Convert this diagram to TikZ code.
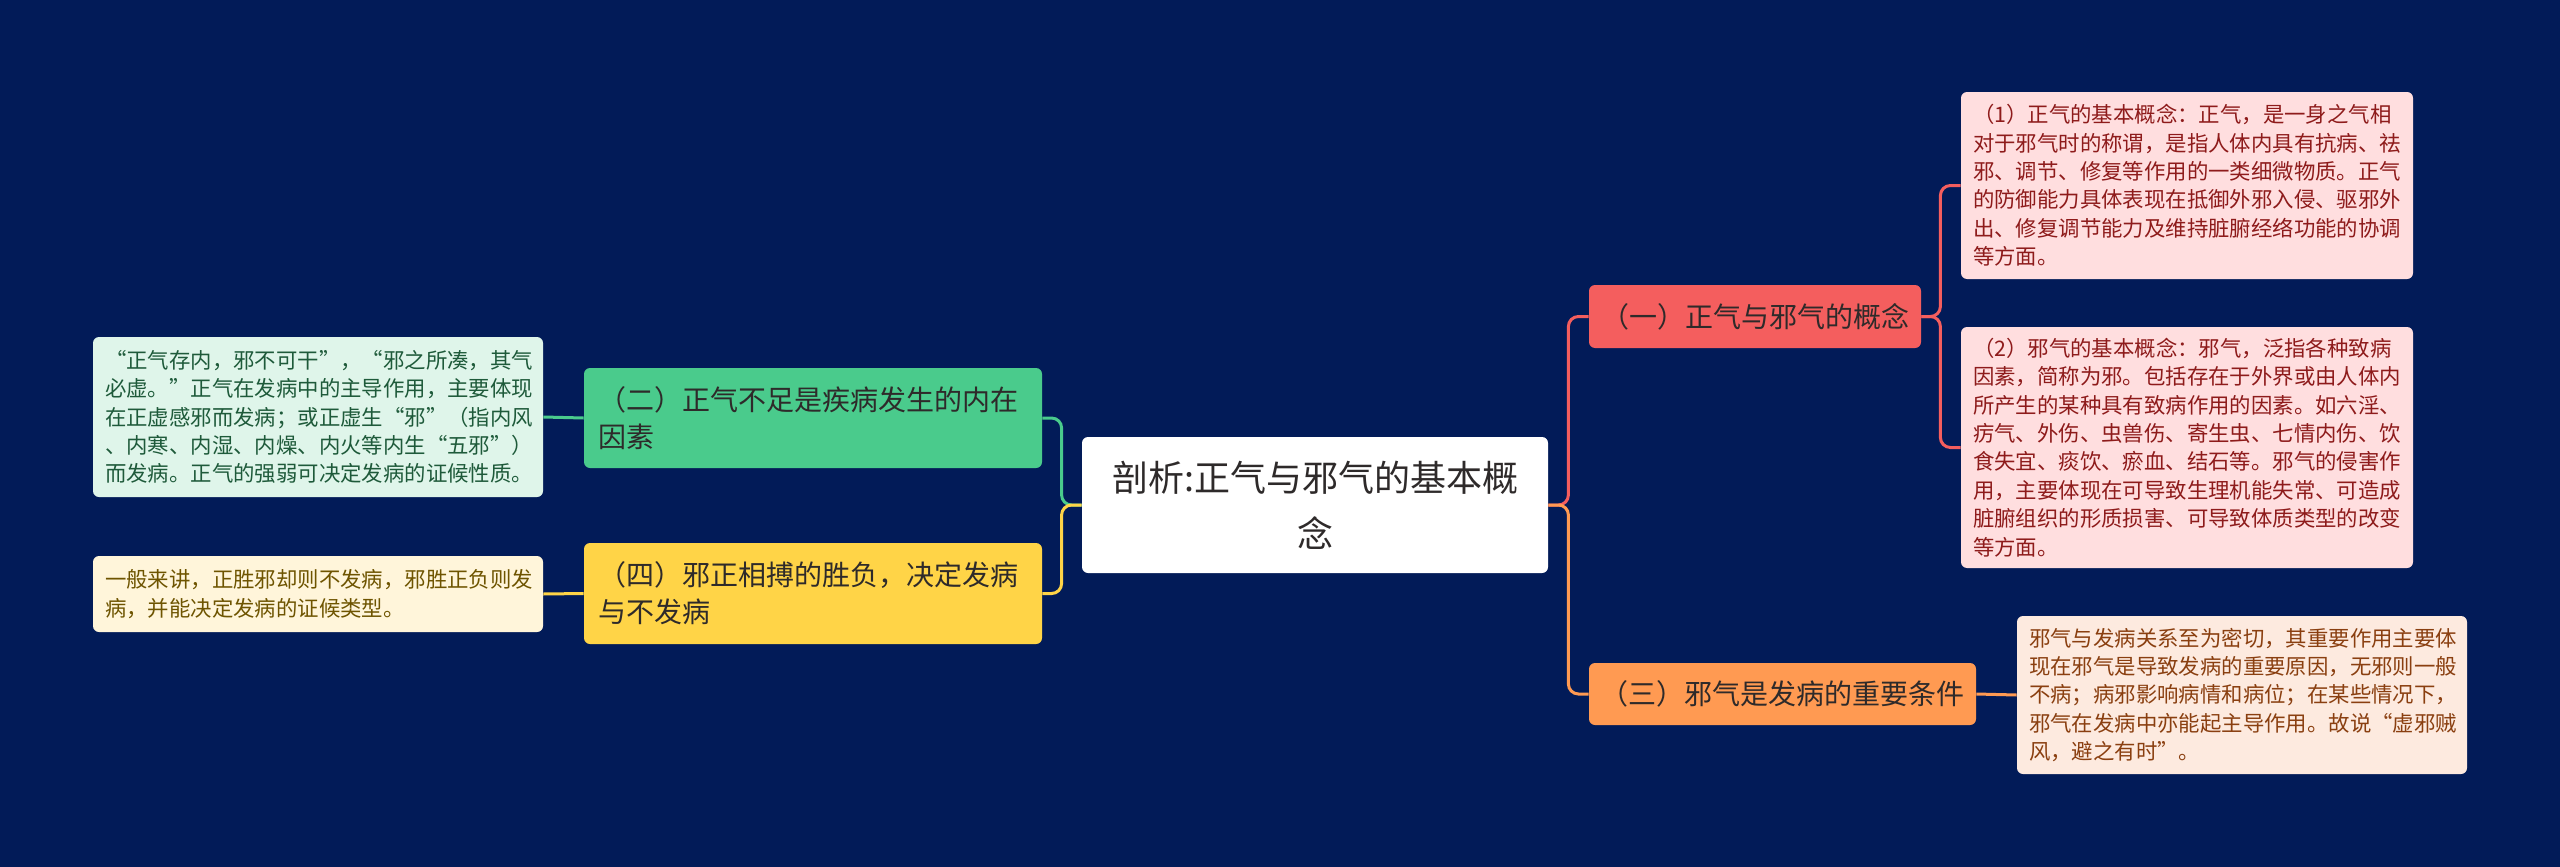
\documentclass[tikz,border=0pt]{standalone}
\usepackage{fontspec}
\setmainfont{Noto Sans CJK SC}
\definecolor{navy}{HTML}{021B58}
\definecolor{redfill}{HTML}{F45E5E}
\definecolor{orangefill}{HTML}{FF9A52}
\definecolor{greenfill}{HTML}{4ACB8C}
\definecolor{yellowfill}{HTML}{FFD447}
\definecolor{pinkleaf}{HTML}{FFDEDF}
\definecolor{peachleaf}{HTML}{FDEADF}
\definecolor{mintleaf}{HTML}{DFF5EA}
\definecolor{creamleaf}{HTML}{FFF5DA}
\definecolor{redtext}{HTML}{8E1B1B}
\definecolor{browntext}{HTML}{8A3F10}
\definecolor{greentext}{HTML}{1E5A3A}
\definecolor{olivetext}{HTML}{6E5400}
\definecolor{darktext}{HTML}{2E2A2A}

\begin{document}
\begin{tikzpicture}[x=0.5pt, y=-0.5pt,
  box/.style={rounded corners=3pt, inner ysep=0pt},
  leaf/.style={box, inner xsep=6pt, align=left,
    font=\fontsize{10.7pt}{14.2pt}\selectfont},
  branch/.style={box, text=darktext,
    font=\fontsize{14pt}{18.5pt}\selectfont},
  link/.style={line width=1.5pt, rounded corners=5pt}]
  \fill[navy] (0,0) rectangle (2560,867);

  \node[box, fill=white, text=darktext, align=center,
    minimum width=233pt, minimum height=68pt,
    font=\fontsize{18pt}{28pt}\selectfont] (ctr) at (1315,505)
    {剖析:正气与邪气的基本概\\念};

  \node[branch, fill=redfill, minimum width=166pt, minimum height=31.5pt] (b1) at (1755,316.5)
    {（一）正气与邪气的概念};
  \node[branch, fill=orangefill, minimum width=193.5pt, minimum height=31pt] (b3) at (1782.5,694)
    {（三）邪气是发病的重要条件};
  \node[branch, fill=greenfill, inner xsep=7pt, text width=215pt, align=left,
    minimum height=50pt] (b2) at (813,418)
    {（二）正气不足是疾病发生的内在\\因素};
  \node[branch, fill=yellowfill, inner xsep=7pt, text width=215pt, align=left,
    minimum height=50.5pt] (b4) at (813,593.5)
    {（四）邪正相搏的胜负，决定发病\\与不发病};

  \node[leaf, fill=pinkleaf, text=redtext, text width=214pt, minimum height=93.5pt] (l1) at (2187,185.5)
    {（1）正气的基本概念：正气，是一身之气相\\
     对于邪气时的称谓，是指人体内具有抗病、祛\\
     邪、调节、修复等作用的一类细微物质。正气\\
     的防御能力具体表现在抵御外邪入侵、驱邪外\\
     出、修复调节能力及维持脏腑经络功能的协调\\
     等方面。};
  \node[leaf, fill=pinkleaf, text=redtext, text width=214pt, minimum height=120.5pt] (l2) at (2187,447.5)
    {（2）邪气的基本概念：邪气，泛指各种致病\\
     因素，简称为邪。包括存在于外界或由人体内\\
     所产生的某种具有致病作用的因素。如六淫、\\
     疠气、外伤、虫兽伤、寄生虫、七情内伤、饮\\
     食失宜、痰饮、瘀血、结石等。邪气的侵害作\\
     用，主要体现在可导致生理机能失常、可造成\\
     脏腑组织的形质损害、可导致体质类型的改变\\
     等方面。};
  \node[leaf, fill=peachleaf, text=browntext, text width=213pt, minimum height=79pt] (l3) at (2242,695)
    {邪气与发病关系至为密切，其重要作用主要体\\
     现在邪气是导致发病的重要原因，无邪则一般\\
     不病；病邪影响病情和病位；在某些情况下，\\
     邪气在发病中亦能起主导作用。故说“虚邪贼\\
     风，避之有时”。};
  \node[leaf, fill=mintleaf, text=greentext, text width=213pt, minimum height=80pt] (lz) at (318,417)
    {“正气存内，邪不可干”，“邪之所凑，其气\\
     必虚。”正气在发病中的主导作用，主要体现\\
     在正虚感邪而发病；或正虚生“邪”（指内风\\
     、内寒、内湿、内燥、内火等内生“五邪”）\\
     而发病。正气的强弱可决定发病的证候性质。};
  \node[leaf, fill=creamleaf, text=olivetext, text width=213pt, minimum height=38pt] (lf) at (318,594)
    {一般来讲，正胜邪却则不发病，邪胜正负则发\\
     病，并能决定发病的证候类型。};

  \draw[link, redfill] (ctr.east) -- ++(20,0) |- (b1.west);
  \draw[link, orangefill] (ctr.east) -- ++(20,0) |- (b3.west);
  \draw[link, greenfill] (ctr.west) -- ++(-20,0) |- (b2.east);
  \draw[link, yellowfill] (ctr.west) -- ++(-20,0) |- (b4.east);
  \draw[link, redfill] (b1.east) -- ++(19,0) |- (l1.west);
  \draw[link, redfill] (b1.east) -- ++(19,0) |- (l2.west);
  \draw[link, orangefill] (b3.east) -- (l3.west);
  \draw[link, greenfill] (b2.west) -- (lz.east);
  \draw[link, yellowfill] (b4.west) -- (lf.east);
\end{tikzpicture}
\end{document}
